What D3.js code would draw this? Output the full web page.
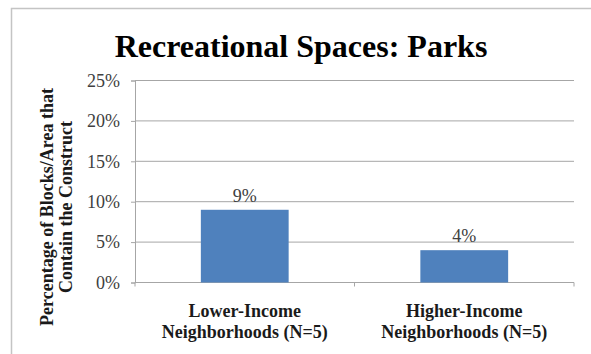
<!DOCTYPE html>
<html>
<head>
<meta charset="utf-8">
<script src="https://cdn.jsdelivr.net/npm/d3@7"></script>
<style>
  html, body { margin: 0; padding: 0; background: #fff; }
  svg { display: block; }
</style>
</head>
<body>
<svg id="chart"></svg>
<script>
// Chart data
const categories = ['Lower-Income Neighborhoods (N=5)', 'Higher-Income Neighborhoods (N=5)'];
const categoryLines = [['Lower-Income', 'Neighborhoods (N=5)'], ['Higher-Income', 'Neighborhoods (N=5)']];
const values = [0.09, 0.04];
const yTicks = [0, 0.05, 0.10, 0.15, 0.20, 0.25];
const title = 'Recreational Spaces: Parks';
const yTitleLines = ['Percentage of Blocks/Area that', 'Contain the Construct'];

const width = 591;
const height = 354;
const marginLeft = 135;
const marginRight = 17;
const marginTop = 80.5;
const marginBottom = 71.5;
const serif = '"Liberation Serif", "DejaVu Serif", serif';

const svg = d3.select('#chart').attr('width', width).attr('height', height);

// outer frame of the chart
svg.append('rect')
  .attr('x', 11.5).attr('y', 8.5)
  .attr('width', width + 10).attr('height', height + 10)
  .attr('fill', 'none')
  .attr('stroke', '#c4c4c4')
  .attr('stroke-width', 1.5);

const x = d3.scaleBand()
  .domain(categories)
  .range([marginLeft, width - marginRight])
  .paddingInner(0.6)
  .paddingOuter(0.3);

const y = d3.scaleLinear()
  .domain([0, 0.25])
  .range([height - marginBottom, marginTop]);

// gridlines
svg.append('g')
  .selectAll('line')
  .data(yTicks.filter((d) => d > 0))
  .join('line')
  .attr('x1', marginLeft)
  .attr('x2', width - marginRight)
  .attr('y1', (d) => y(d))
  .attr('y2', (d) => y(d))
  .attr('stroke', '#a6a6a6')
  .attr('stroke-width', 1);

// y axis
const yAxis = svg.append('g')
  .attr('transform', `translate(${marginLeft},0)`)
  .call(d3.axisLeft(y).tickValues(yTicks).tickFormat(d3.format('.0%')).tickSize(4).tickPadding(11));
yAxis.attr('font-family', null).attr('font-size', null);
yAxis.select('.domain').attr('stroke', '#a6a6a6');
yAxis.selectAll('.tick line').attr('stroke', '#a6a6a6');
yAxis.selectAll('.tick text')
  .style('font-family', serif)
  .style('font-size', '18px')
  .attr('fill', '#404040');

// x axis baseline with ticks at band boundaries
const baseY = y(0);
svg.append('line')
  .attr('x1', marginLeft).attr('x2', width - marginRight)
  .attr('y1', baseY).attr('y2', baseY)
  .attr('stroke', '#a6a6a6');
const bounds = [marginLeft, (marginLeft + width - marginRight) / 2, width - marginRight];
svg.append('g')
  .selectAll('line')
  .data(bounds)
  .join('line')
  .attr('x1', (d) => d).attr('x2', (d) => d)
  .attr('y1', baseY).attr('y2', baseY + 4)
  .attr('stroke', '#a6a6a6');

// bars
svg.append('g')
  .selectAll('rect')
  .data(values)
  .join('rect')
  .attr('x', (d, i) => x(categories[i]))
  .attr('width', x.bandwidth())
  .attr('y', (d) => y(d))
  .attr('height', (d) => y(0) - y(d))
  .attr('fill', '#4f81bd');

// value labels
svg.append('g')
  .selectAll('text')
  .data(values)
  .join('text')
  .attr('x', (d, i) => x(categories[i]) + x.bandwidth() / 2)
  .attr('y', (d) => y(d) - 8)
  .attr('text-anchor', 'middle')
  .style('font-family', serif)
  .style('font-size', '18px')
  .attr('fill', '#404040')
  .text((d) => d3.format('.0%')(d));

// category labels
categoryLines.forEach((lines, i) => {
  const cx = x(categories[i]) + x.bandwidth() / 2;
  svg.append('text')
    .attr('text-anchor', 'middle')
    .style('font-family', serif)
    .style('font-size', '18px')
    .style('font-weight', 'bold')
    .attr('fill', '#1a1a1a')
    .selectAll('tspan')
    .data(lines)
    .join('tspan')
    .attr('x', cx)
    .attr('y', (d, j) => 317 + j * 21)
    .text((d) => d);
});

// title
svg.append('text')
  .attr('x', 301)
  .attr('y', 57)
  .attr('text-anchor', 'middle')
  .style('font-family', serif)
  .style('font-size', '32px')
  .style('font-weight', 'bold')
  .attr('fill', '#000')
  .text(title);

// y axis title
svg.append('text')
  .attr('transform', 'translate(0,207) rotate(-90)')
  .attr('text-anchor', 'middle')
  .style('font-family', serif)
  .style('font-size', '18px')
  .style('font-weight', 'bold')
  .attr('fill', '#1a1a1a')
  .selectAll('tspan')
  .data(yTitleLines)
  .join('tspan')
  .attr('x', 0)
  .attr('y', (d, j) => 53 + j * 19)
  .text((d) => d);
</script>
</body>
</html>
